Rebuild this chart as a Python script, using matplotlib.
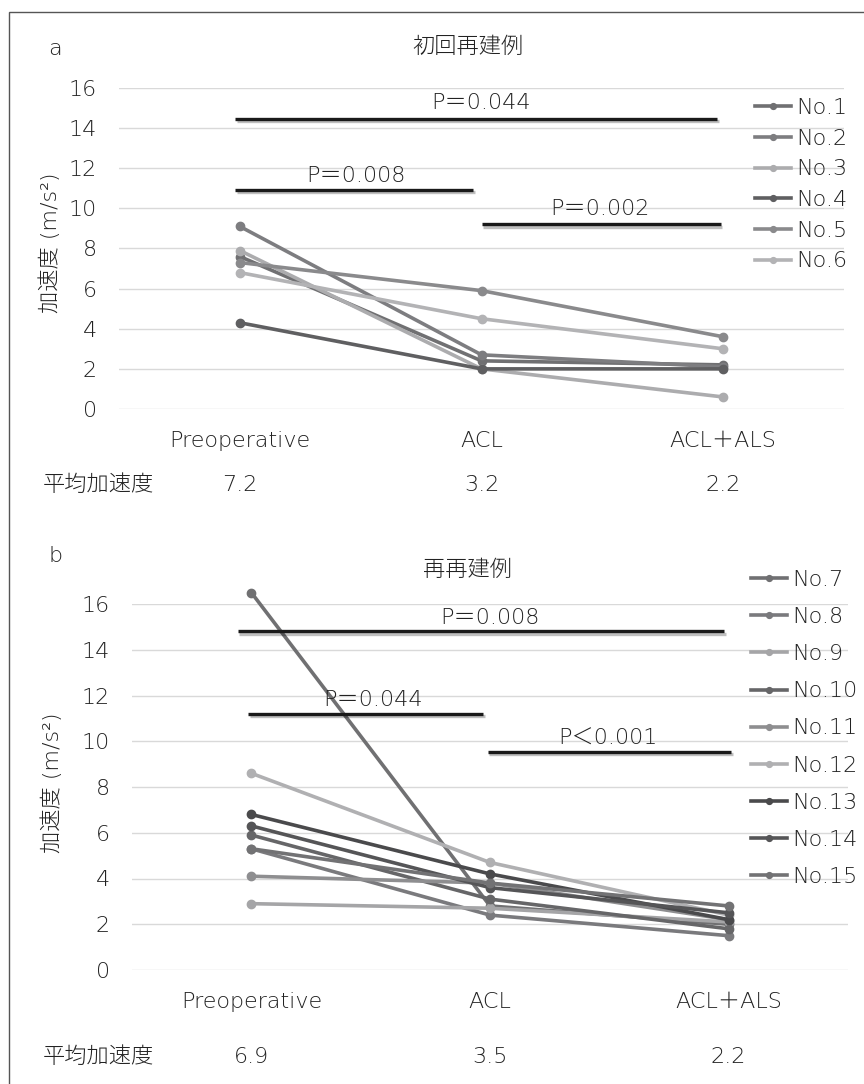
import matplotlib
matplotlib.use("Agg")
import matplotlib.pyplot as plt
import matplotlib.patheffects as pe
from matplotlib.transforms import blended_transform_factory
from matplotlib.patches import Rectangle

plt.rcParams["font.family"] = ["DejaVu Sans", "Noto Sans CJK JP"]
plt.rcParams["font.weight"] = "light"
plt.rcParams["axes.unicode_minus"] = False

# ---- data ----
categories = ["Preoperative", "ACL", "ACL\uff0bALS"]

# 初回再建例
labels_a = ["No.1", "No.2", "No.3", "No.4", "No.5", "No.6"]
values_a = [
    [7.6, 2.4, 2.2],
    [9.1, 2.7, 2.1],
    [7.9, 2.0, 0.6],
    [4.3, 2.0, 2.0],
    [7.3, 5.9, 3.6],
    [6.8, 4.5, 3.0],
]
colors_a = ["#707072", "#7d7d80", "#acacae", "#5f5f61", "#8a8a8c", "#b3b3b5"]
means_a = ["7.2", "3.2", "2.2"]
pvals_a = ["P\uff1d0.044", "P\uff1d0.008", "P\uff1d0.002"]
bars_a = [(-0.02, 1.975, 14.46), (-0.02, 0.965, 10.92), (1.0, 1.99, 9.2)]
ptext_a = [(1.0, 15.25), (0.48, 11.6), (1.49, 9.97)]

# 再再建例
labels_b = ["No.7", "No.8", "No.9", "No.10", "No.11", "No.12", "No.13", "No.14", "No.15"]
values_b = [
    [16.5, 2.8, 2.0],
    [5.3, 2.4, 1.5],
    [2.9, 2.7, 2.1],
    [5.9, 3.1, 1.8],
    [4.1, 3.8, 2.2],
    [8.6, 4.7, 2.4],
    [6.8, 4.2, 2.2],
    [6.3, 3.6, 2.5],
    [5.3, 3.8, 2.8],
]
colors_b = ["#707072", "#7a7a7d", "#a5a5a7", "#666668", "#8e8e90",
            "#b0b0b2", "#4a4a4c", "#555557", "#727274"]
means_b = ["6.9", "3.5", "2.2"]
pvals_b = ["P\uff1d0.008", "P\uff1d0.044", "P\uff1c0.001"]
bars_b = [(-0.057, 1.98, 14.8), (-0.013, 0.97, 11.18), (0.99, 2.01, 9.55)]
ptext_b = [(1.0, 15.4), (0.51, 11.8), (1.494, 10.1)]

TEXT = "#222222"
FS = 16
W, H = 864, 1084

fig = plt.figure(figsize=(W / 100, H / 100), dpi=100)
fig.set_facecolor("white")

# outer frame (right / bottom edges fall outside the image)
fig.patches.append(Rectangle((9 / W, 1 - 1090 / H), 870 / W, (1090 - 12) / H,
                             transform=fig.transFigure, fill=False,
                             edgecolor="#555555", linewidth=1.0))


def draw_panel(rect, labels, values, colors, means, pvals, bars, ptext,
               letter, title, letter_y, title_y, ylab_x, ylab_y, mean_y,
               leg_anchor, leg_spacing):
    ax = fig.add_axes(rect)
    x = list(range(len(categories)))
    for lab, vals, c in zip(labels, values, colors):
        ax.plot(x, vals, color=c, lw=2.6, marker="o", ms=6, label=lab,
                clip_on=False, zorder=3)
    ax.set_xlim(-0.5, 2.5)
    ax.set_ylim(0, 16)
    ax.set_yticks(range(0, 17, 2))
    ax.set_xticks(x)
    ax.set_xticklabels(categories)
    ax.tick_params(axis="both", length=0, labelsize=FS, colors=TEXT)
    ax.tick_params(axis="y", pad=16)
    ax.tick_params(axis="x", pad=16)
    ax.grid(axis="y", color="#d9d9d9", lw=1.0)
    ax.set_axisbelow(True)
    for s in ax.spines.values():
        s.set_visible(False)

    shadow = [pe.SimpleLineShadow(offset=(1.2, -1.5), alpha=0.25), pe.Normal()]
    for (x0, x1, yv), txt, (tx, ty) in zip(bars, pvals, ptext):
        ax.plot([x0, x1], [yv, yv], color="#1a1a1a", lw=2.4,
                solid_capstyle="butt", path_effects=shadow, zorder=4)
        ax.text(tx, ty, txt, ha="center", va="center", fontsize=FS,
                color=TEXT, zorder=5)

    leg = ax.legend(loc="upper left", bbox_to_anchor=leg_anchor,
                    bbox_transform=fig.transFigure, frameon=False,
                    fontsize=FS, handlelength=1.6, handletextpad=0.25,
                    labelspacing=leg_spacing, borderpad=0, borderaxespad=0,
                    markerscale=0.7)
    for t in leg.get_texts():
        t.set_color(TEXT)

    fig.text(55 / W, 1 - letter_y / H, letter, fontsize=FS, color=TEXT,
             ha="center", va="center")
    fig.text(468 / W, 1 - title_y / H, title, fontsize=FS, color=TEXT,
             ha="center", va="center")
    fig.text(ylab_x / W, 1 - ylab_y / H, "加速度 (m/s²)", fontsize=FS,
             color=TEXT, rotation=90, ha="center", va="center")

    tr = blended_transform_factory(ax.transData, fig.transFigure)
    fig.text(43 / W, 1 - mean_y / H, "平均加速度", fontsize=FS, color=TEXT,
             ha="left", va="center")
    for xi, m in zip(x, means):
        ax.text(xi, 1 - mean_y / H, m, transform=tr, fontsize=FS, color=TEXT,
                ha="center", va="center")
    return ax


draw_panel([119 / W, 1 - 409 / H, 725 / W, 321 / H],
           labels_a, values_a, colors_a, means_a, pvals_a, bars_a, ptext_a,
           "a", "初回再建例", 49, 47, 50, 243, 485,
           (755 / W, 1 - 98 / H), 0.48)

draw_panel([132 / W, 1 - 970 / H, 716 / W, 366 / H],
           labels_b, values_b, colors_b, means_b, pvals_b, bars_b, ptext_b,
           "b", "再再建例", 556, 570, 52, 783, 1057,
           (751 / W, 1 - 570 / H), 0.77)

fig.savefig("out.png", dpi=100, facecolor="white")
